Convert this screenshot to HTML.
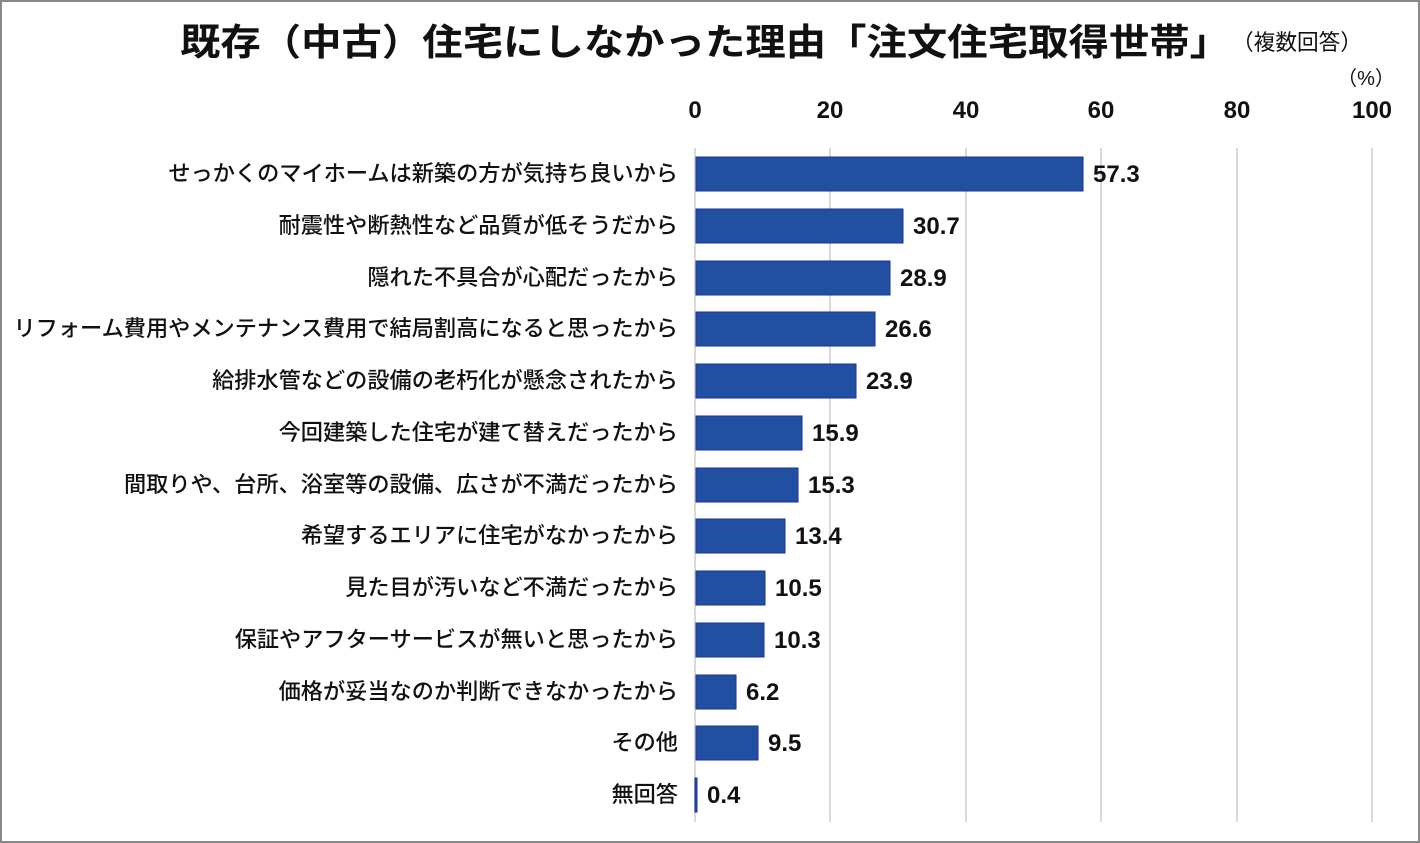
<!DOCTYPE html>
<html><head><meta charset="utf-8"><style>
html,body{margin:0;padding:0;background:#fff}
svg{display:block}
text{font-family:"Liberation Sans","Noto Sans CJK JP",sans-serif;fill:#111}
</style></head><body>
<svg width="1420" height="843" viewBox="0 0 1420 843" xmlns="http://www.w3.org/2000/svg">
<rect x="1" y="1" width="1418" height="841" fill="#fff" stroke="#888" stroke-width="2"/>
<text x="180" y="55" font-size="37" font-weight="bold" textLength="1050" lengthAdjust="spacingAndGlyphs">既存（中古）住宅にしなかった理由「注文住宅取得世帯」</text>
<text x="1232" y="50" font-size="22" textLength="130" lengthAdjust="spacingAndGlyphs">（複数回答）</text>
<text x="1366" y="85" font-size="20" text-anchor="middle">（%）</text>
<g font-size="24" font-weight="bold" text-anchor="middle">
<text x="695" y="118">0</text><text x="830" y="118">20</text><text x="966" y="118">40</text><text x="1101" y="118">60</text><text x="1237" y="118">80</text><text x="1372" y="118">100</text>
</g>
<g stroke="#d9d9d9" stroke-width="2">
<line x1="830" y1="148" x2="830" y2="822"/><line x1="966" y1="148" x2="966" y2="822"/><line x1="1101" y1="148" x2="1101" y2="822"/><line x1="1237" y1="148" x2="1237" y2="822"/><line x1="1372" y1="148" x2="1372" y2="822"/><line x1="695" y1="148" x2="695" y2="822"/>
</g>
<g fill="#2150a0" stroke="#1a2fa0" stroke-width="1">
<rect x="696" y="157" width="387" height="34"/>
<rect x="696" y="209" width="207" height="34"/>
<rect x="696" y="261" width="194" height="34"/>
<rect x="696" y="312" width="179" height="34"/>
<rect x="696" y="364" width="160" height="34"/>
<rect x="696" y="416" width="106" height="34"/>
<rect x="696" y="468" width="102" height="34"/>
<rect x="696" y="519" width="89" height="34"/>
<rect x="696" y="571" width="69" height="34"/>
<rect x="696" y="623" width="68" height="34"/>
<rect x="696" y="675" width="40" height="34"/>
<rect x="696" y="726" width="62" height="34"/>
<rect x="695" y="778" width="2" height="34"/>
</g>
<g font-size="22.2" font-weight="500" text-anchor="end">
<text x="678" y="181">せっかくのマイホームは新築の方が気持ち良いから</text>
<text x="678" y="233">耐震性や断熱性など品質が低そうだから</text>
<text x="678" y="285">隠れた不具合が心配だったから</text>
<text x="678" y="336">リフォーム費用やメンテナンス費用で結局割高になると思ったから</text>
<text x="678" y="388">給排水管などの設備の老朽化が懸念されたから</text>
<text x="678" y="440">今回建築した住宅が建て替えだったから</text>
<text x="678" y="492">間取りや、台所、浴室等の設備、広さが不満だったから</text>
<text x="678" y="543">希望するエリアに住宅がなかったから</text>
<text x="678" y="595">見た目が汚いなど不満だったから</text>
<text x="678" y="647">保証やアフターサービスが無いと思ったから</text>
<text x="678" y="699">価格が妥当なのか判断できなかったから</text>
<text x="678" y="750">その他</text>
<text x="678" y="802">無回答</text>
</g>
<g font-size="24" font-weight="bold">
<text x="1093" y="182">57.3</text>
<text x="913" y="234">30.7</text>
<text x="900" y="286">28.9</text>
<text x="885" y="337">26.6</text>
<text x="866" y="389">23.9</text>
<text x="812" y="441">15.9</text>
<text x="808" y="493">15.3</text>
<text x="795" y="544">13.4</text>
<text x="775" y="596">10.5</text>
<text x="774" y="648">10.3</text>
<text x="746" y="700">6.2</text>
<text x="768" y="751">9.5</text>
<text x="707" y="803">0.4</text>
</g>
</svg>
</body></html>
